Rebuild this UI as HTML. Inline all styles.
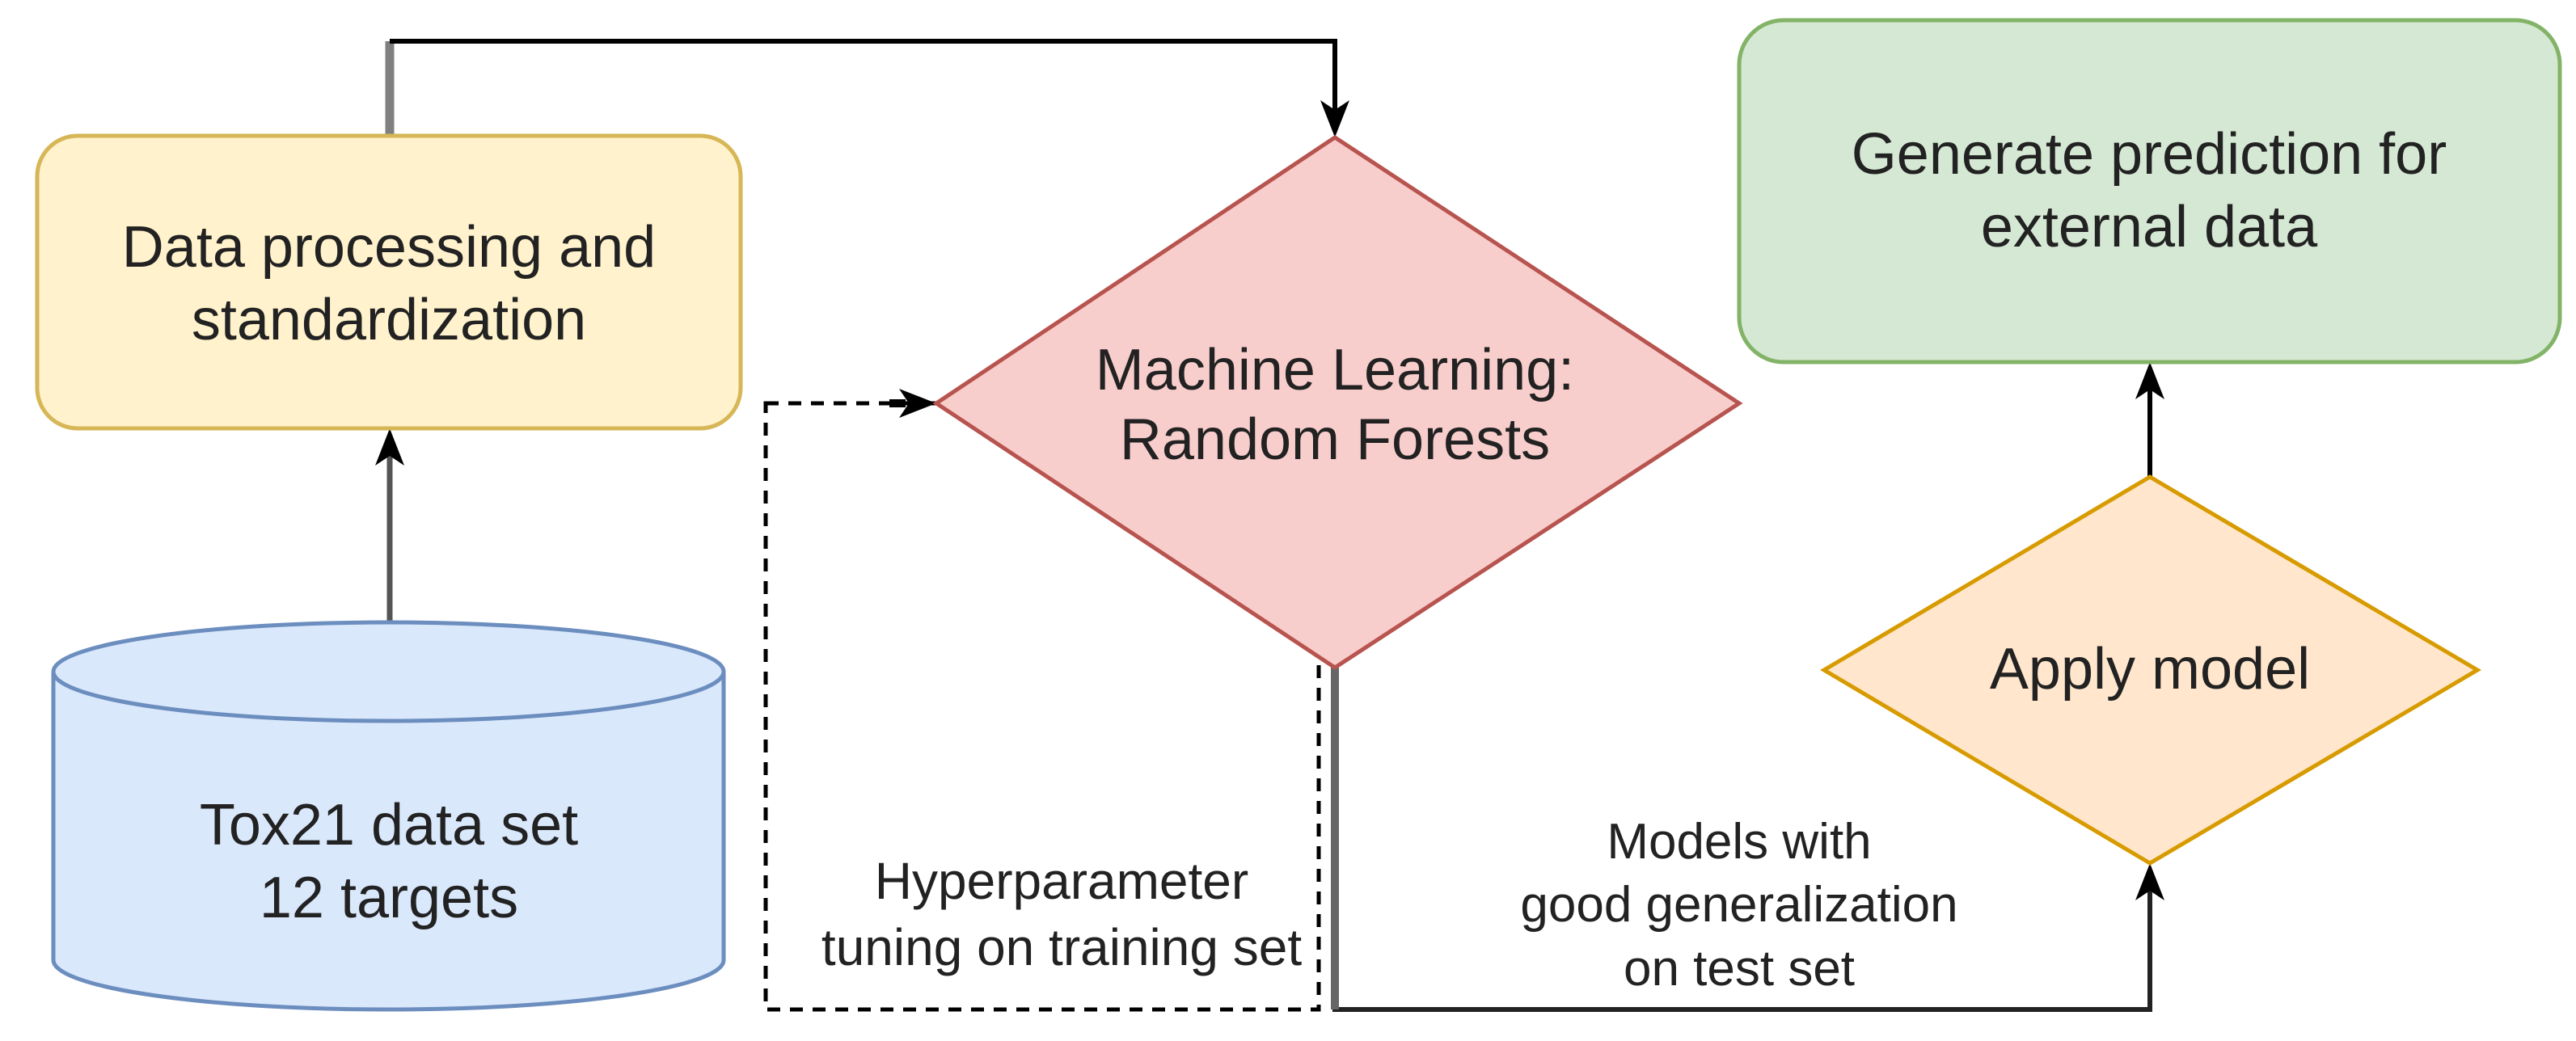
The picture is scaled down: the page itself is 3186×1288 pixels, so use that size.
<!DOCTYPE html>
<html><head><meta charset="utf-8"><style>html,body{margin:0;padding:0;background:#fff}svg{display:block}</style></head>
<body>
<svg width="3186" height="1288" viewBox="0 0 3186 1288" xmlns="http://www.w3.org/2000/svg" font-family="Liberation Sans, Arial, sans-serif" text-anchor="middle" fill="#222">
<!-- connectors -->
<path d="M482 168 V51" stroke="#808080" stroke-width="11" fill="none"/>
<path d="M482 51 H1651 V140" stroke="#000" stroke-width="6" fill="none"/>
<polygon points="1633,124 1651,170 1669,124 1651,136" fill="#000"/>
<path d="M482 770 V560" stroke="#555" stroke-width="7" fill="none"/>
<polygon points="464,576 482,530 500,576 482,564" fill="#000"/>
<rect x="947" y="499" width="684" height="750" fill="none" stroke="#000" stroke-width="5" stroke-dasharray="16,12"/>
<polygon points="1112,481 1158,499 1112,517 1124,499" fill="#000"/>
<rect x="1100" y="494" width="20" height="10" fill="#000"/>
<path d="M1651 826 V1249 H2659 V1100" stroke="#222" stroke-width="6" fill="none"/>
<rect x="1646" y="826" width="10" height="423" fill="#666"/>
<polygon points="2641,1114 2659,1068 2677,1114 2659,1102" fill="#000"/>
<path d="M2659 590 V480" stroke="#000" stroke-width="6" fill="none"/>
<polygon points="2641,494 2659,448 2677,494 2659,482" fill="#000"/>
<!-- yellow box -->
<rect x="46" y="168" width="870" height="362" rx="50" fill="#fff2cc" stroke="#d6b656" stroke-width="5"/>
<text x="481" y="330" font-size="72">Data processing and</text>
<text x="481" y="420" font-size="72">standardization</text>
<!-- cylinder -->
<path d="M66 831 V1188 A414.5 61 0 0 0 895 1188 V831" fill="#dae8fc" stroke="#6c8ebf" stroke-width="5"/>
<ellipse cx="480.5" cy="831" rx="414.5" ry="61" fill="#dae8fc" stroke="#6c8ebf" stroke-width="5"/>
<text x="481" y="1045" font-size="72">Tox21 data set</text>
<text x="481" y="1135" font-size="72">12 targets</text>
<!-- red diamond -->
<polygon points="1651,170 2151,499 1651,826 1158,499" fill="#f8cecc" stroke="#b85450" stroke-width="5"/>
<text x="1651" y="482" font-size="72">Machine Learning:</text>
<text x="1651" y="568" font-size="72">Random Forests</text>
<!-- labels -->
<text x="1313" y="1112" font-size="64">Hyperparameter</text>
<text x="1313" y="1194" font-size="64">tuning on training set</text>
<text x="2151" y="1062" font-size="62">Models with</text>
<text x="2151" y="1140" font-size="62">good generalization</text>
<text x="2151" y="1219" font-size="62">on test set</text>
<!-- green box -->
<rect x="2151" y="25" width="1015" height="423" rx="55" fill="#d5e8d4" stroke="#82b366" stroke-width="5"/>
<text x="2658" y="215" font-size="72">Generate prediction for</text>
<text x="2658" y="305" font-size="72">external data</text>
<!-- orange diamond -->
<polygon points="2659,590 3064,829 2659,1068 2256,829" fill="#ffe6cc" stroke="#d79b00" stroke-width="5"/>
<text x="2659" y="852" font-size="72">Apply model</text>
</svg>
</body></html>
